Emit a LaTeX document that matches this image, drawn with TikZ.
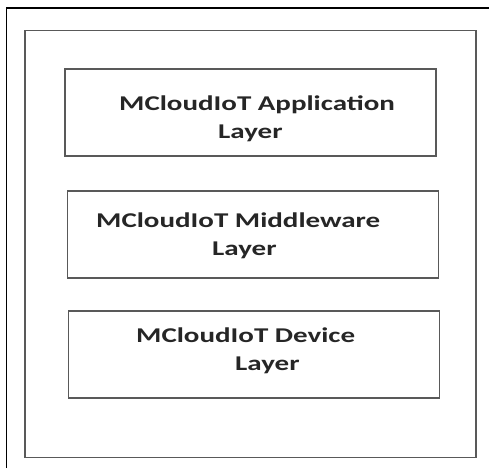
\documentclass[tikz,border=0pt]{standalone}
\usepackage{fontspec}
\newfontfamily\layerfont[FakeStretch=1.38]{Carlito}
\usetikzlibrary{positioning}

\tikzset{
  layerbox/.style={draw=black!65, line width=1.6pt, minimum width=371pt, minimum height=87pt, inner sep=0pt},
  layertext/.style={anchor=base west, inner sep=0pt, text=black!85, font=\layerfont\bfseries\fontsize{21}{25}\selectfont}
}

\begin{document}
\begin{tikzpicture}[x=1pt, y=-1pt]
  \useasboundingbox (0,0) rectangle (489,468);

  % clipped outer frame (top and left only)
  \draw[black, line width=1.1pt] (6.5,468) -- (6.5,8) -- (489,8);

  % main frame
  \node[draw=black!65, line width=1.8pt, minimum width=451pt, minimum height=427pt, inner sep=0pt] (frame) at (250.5,244) {};

  % layers
  \node[layerbox] (app) at (250.5,112.5) {};
  \node[layerbox] (mid) at (253,234.5) {};
  \node[layerbox] (dev) at (254,354.5) {};

  % labels
  \node[layertext] (appA) at (119,110.5) {MCloudIoT Application};
  \node[layertext] (appB) at (218,138.5) {Layer};
  \node[layertext] (midA) at (96,227) {MCloudIoT Middleware};
  \node[layertext] (midB) at (212,255) {Layer};
  \node[layertext] (devA) at (136,342) {MCloudIoT Device};
  \node[layertext] (devB) at (235,370) {Layer};
\end{tikzpicture}
\end{document}
